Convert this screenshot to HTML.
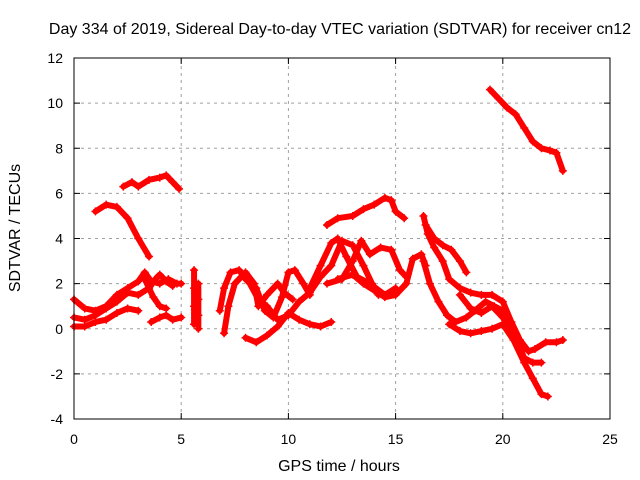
<!DOCTYPE html>
<html><head><meta charset="utf-8"><style>
body{margin:0;background:#fff}
svg{display:block;font-family:"Liberation Sans",sans-serif}
</style></head><body>
<svg id="chart" width="640" height="480" viewBox="0 0 640 480">
<text x="340" y="34" font-size="16" text-anchor="middle" fill="#000">Day 334 of 2019, Sidereal Day-to-day VTEC variation (SDTVAR) for receiver cn12</text>
<g id="grid"></g>
<g id="ticks"></g>
<g id="marks"></g>
<rect x="74" y="58" width="536" height="361" fill="none" stroke="#000" stroke-width="1"/>
<text x="339" y="471" font-size="16" text-anchor="middle">GPS time / hours</text>
<text transform="translate(20,228) rotate(-90)" font-size="16" text-anchor="middle">SDTVAR / TECUs</text>
</svg>
<script>
const xTicks=[0,5,10,15,20,25];
const yTicks=[-4,-2,0,2,4,6,8,10,12];
const trackA=[[1.0,5.2],[1.5,5.5],[2.0,5.4],[2.5,4.9],[3.0,4.0],[3.5,3.2]];
const trackB=[[2.3,6.3],[2.7,6.5],[3.0,6.3],[3.5,6.6],[4.0,6.7],[4.3,6.8],[4.6,6.5],[4.9,6.2]];
const trackC=[[19.4,10.6],[19.8,10.2],[20.2,9.8],[20.6,9.5],[21.0,8.9],[21.4,8.3],[21.8,8.0],[22.2,7.9],[22.5,7.8],[22.8,7.0]];
const trackD=[[11.8,4.6],[12.3,4.9],[13,5.0],[13.5,5.3],[14,5.5],[14.5,5.8],[14.8,5.7],[15.0,5.2],[15.4,4.9]];
const trackE=[[0,1.3],[0.5,0.9],[1,0.8],[1.5,1.0],[2,1.5],[2.5,1.8],[3,2.1],[3.3,2.5],[3.6,2.1],[4,2.0],[4.4,2.2],[4.8,2.0],[5.0,2.0]];
const trackF=[[0,0.5],[0.5,0.4],[1,0.6],[1.5,0.9],[2,1.2],[2.5,1.6],[3,1.5],[3.5,1.8],[3.8,2.2],[4.0,2.4],[4.3,2.1],[4.6,1.9]];
const trackG=[[0,0.1],[0.5,0.1],[1,0.3],[1.5,0.4],[2,0.7],[2.5,0.9],[3,0.8]];
const trackH=[[3.6,0.3],[4,0.5],[4.3,0.6],[4.6,0.4],[5.0,0.5]];
const trackI=[[3.3,2.2],[3.7,1.4],[4.0,1.0],[4.3,0.9]];
const trackJ=[[5.6,2.6],[5.6,1.8],[5.6,1.0],[5.6,0.2]];
const trackK=[[5.8,2.0],[5.8,1.3],[5.8,0.6],[5.8,0.0]];
const trackL=[[6.8,0.8],[7,1.8],[7.3,2.5],[7.7,2.6],[8,2.2],[8.5,1.8],[8.9,0.8],[9.3,0.5],[9.7,1.4],[10,2.5],[10.3,2.6],[10.7,2.0],[11,1.5]];
const trackM=[[7,-0.2],[7.2,1.0],[7.5,2.0],[8,2.5],[8.4,2.0],[8.6,1.0],[9,1.5],[9.5,2.0],[9.8,1.6],[10.2,1.3]];
const trackN=[[8,-0.4],[8.5,-0.6],[9,-0.3],[9.5,0.1],[10,0.7],[10.5,0.4],[11,0.2],[11.5,0.1],[12,0.3]];
const trackO=[[8.2,2.0],[8.6,1.3],[9,1.0],[9.5,0.4],[10,0.6],[10.5,1.2],[11,1.6],[11.5,2.3],[12,2.8],[12.5,3.9],[13,3.7],[13.5,2.8],[13.9,2.0],[14.2,1.5]];
const trackP=[[11,1.8],[11.5,2.8],[12,3.8],[12.3,4.0],[12.7,3.2],[13.2,2.3],[13.8,2.0],[14.5,1.5],[15,1.8]];
const trackQ=[[11.8,2.0],[12.5,2.2],[13,3.0],[13.4,3.9],[13.8,3.3],[14.3,3.6],[14.8,3.5],[15.2,2.6],[15.5,2.3]];
const trackR=[[12.3,2.2],[13,2.4],[13.5,2.0],[14,1.7],[14.5,1.4],[15,1.5],[15.5,2.0],[15.8,3.1],[16.2,3.3],[16.4,2.8]];
const trackS=[[16.3,5.0],[16.5,4.2],[16.8,3.6],[17.2,3.0],[17.5,2.2],[18,1.8],[18.5,1.6],[19,1.5],[19.5,1.5],[20,1.2],[20.4,0.3],[20.8,-0.5],[21.2,-1.0],[21.5,-0.9],[22,-0.6],[22.5,-0.6],[22.8,-0.5]];
const trackT=[[16.4,4.6],[16.8,4.0],[17.2,3.7],[17.6,3.5],[18,3.0],[18.3,2.5]];
const trackU=[[16.3,3.0],[16.6,2.0],[17,1.2],[17.4,0.6],[17.8,0.3],[18.3,0.5],[18.7,0.8],[19.2,1.2],[19.6,1.0],[20,0.8],[20.3,0.3],[20.6,-0.4],[21,-1.3],[21.4,-1.5],[21.8,-1.5]];
const trackV=[[17.5,0.2],[18,-0.1],[18.5,-0.2],[19,-0.1],[19.5,0.0],[20,0.2],[20.5,-0.5],[21,-1.5],[21.4,-2.2],[21.8,-2.9],[22.1,-3.0]];
const trackW=[[18,1.5],[18.5,0.9],[19,0.7],[19.5,1.0],[20,0.5],[20.5,-0.3]];
const tracks=[trackA,trackB,trackC,trackD,trackE,trackF,trackG,trackH,trackI,trackJ,trackK,trackL,trackM,trackN,trackO,trackP,trackQ,trackR,trackS,trackT,trackU,trackV,trackW];

const NS='http://www.w3.org/2000/svg';
const X0=74,X1=610,Y0=419,Y1=58;
function sx(v){return X0+(v-0)/(25-0)*(X1-X0);}
function sy(v){return Y0-(v-(-4))/(12-(-4))*(Y0-Y1);}
function mk(t,a,p){const e=document.createElementNS(NS,t);for(const k in a)e.setAttribute(k,a[k]);p.appendChild(e);return e;}
const grid=document.getElementById('grid'),ticks=document.getElementById('ticks'),marks=document.getElementById('marks');
xTicks.forEach(v=>{
  const x=sx(v);
  if(v>0&&v<25){const g=mk('line',{x1:x,x2:x,y1:Y0,y2:Y1,stroke:'#a0a0a0','stroke-dasharray':'3,4'},grid);
  
  }
  mk('line',{x1:x,x2:x,y1:Y0,y2:Y0-6,stroke:'#000'},ticks);
  mk('line',{x1:x,x2:x,y1:Y1,y2:Y1+6,stroke:'#000'},ticks);
  const t=mk('text',{x:x,y:Y0+25,'font-size':14,'text-anchor':'middle'},ticks);t.textContent=v;
  
  
});
yTicks.forEach(v=>{
  const y=sy(v);
  if(v>-4&&v<12){const g=mk('line',{x1:X0,x2:X1,y1:y,y2:y,stroke:'#a0a0a0','stroke-dasharray':'3,4'},grid);
  
  }
  mk('line',{x1:X0,x2:X0+6,y1:y,y2:y,stroke:'#000'},ticks);
  mk('line',{x1:X1,x2:X1-6,y1:y,y2:y,stroke:'#000'},ticks);
  const t=mk('text',{x:X0-11,y:y+5,'font-size':14,'text-anchor':'end'},ticks);t.textContent=v;
  
  
});
tracks.forEach(tr=>{
  const pts=tr.map(p=>sx(p[0])+','+sy(p[1])).join(' ');
  const pl=mk('polyline',{points:pts,fill:'none',stroke:'#f00','stroke-width':6,'stroke-linejoin':'round','stroke-linecap':'round'},marks);
  
  
  tr.forEach(p=>{
    const x=sx(p[0]),y=sy(p[1]);
    const m=mk('path',{d:`M${x-4},${y}H${x+4}M${x},${y-4}V${y+4}`,stroke:'#f00','stroke-width':1.5},marks);
    
    
  });
});
</script>
</body></html>
